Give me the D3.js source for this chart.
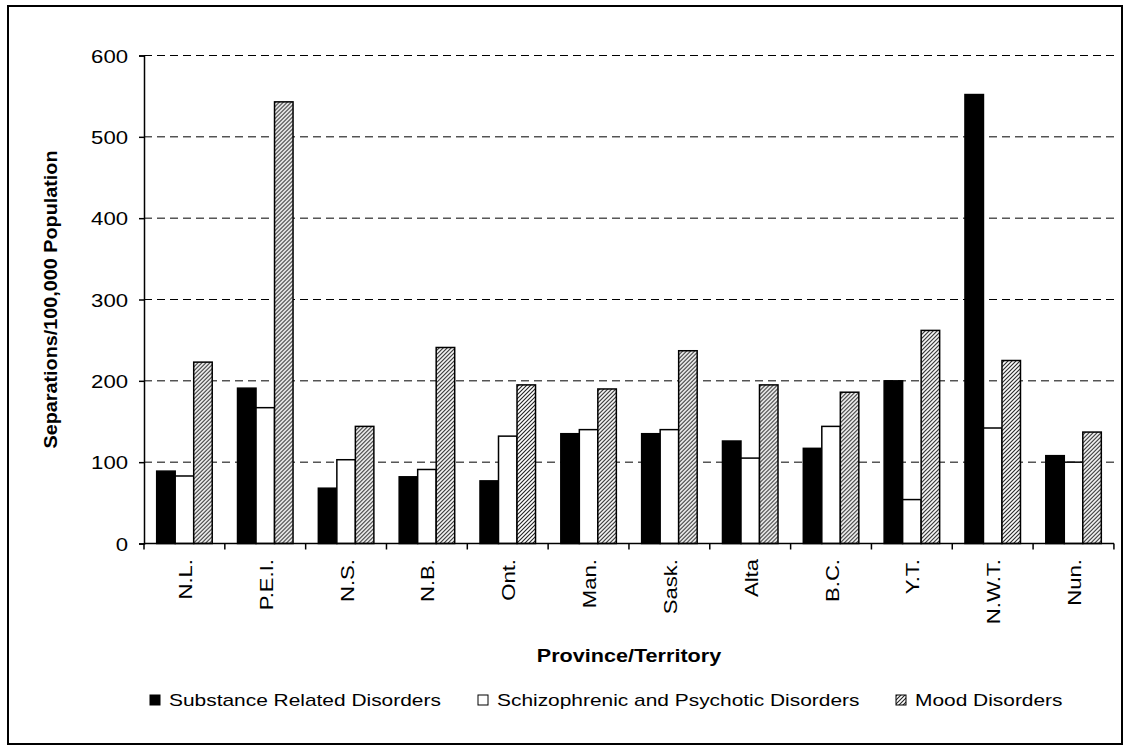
<!DOCTYPE html>
<html>
<head>
<meta charset="utf-8">
<script src="https://cdn.jsdelivr.net/npm/d3@7/dist/d3.min.js"></script>
<style>
  html, body { margin: 0; padding: 0; background: #fff; }
  text { font-family: "Liberation Sans", Arial, sans-serif; fill: #000; }
</style>
</head>
<body>
<svg id="chart" width="1130" height="752"></svg>
<script>
// Hospital separations per 100,000 population, by province/territory
const provinces = ["N.L.", "P.E.I.", "N.S.", "N.B.", "Ont.", "Man.", "Sask.", "Alta", "B.C.", "Y.T.", "N.W.T.", "Nun."];
const seriesNames = ["Substance Related Disorders", "Schizophrenic and Psychotic Disorders", "Mood Disorders"];
const substance = [89, 191, 68, 82, 77, 135, 135, 126, 117, 200, 552, 108];
const schizophrenic = [83, 167, 103, 91, 132, 140, 140, 105, 144, 54, 142, 100];
const mood = [223, 543, 144, 241, 195, 190, 237, 195, 186, 262, 225, 137];
const yTicks = [0, 100, 200, 300, 400, 500, 600];

const seriesValues = [substance, schizophrenic, mood];
const rows = provinces.map((p, i) => ({ p, vals: seriesValues.map(s => s[i]) }));

const svg = d3.select("#chart");
const W = 1130, H = 752;
const plotLeft = 144, plotRight = 1114, plotTop = 55.5, plotBottom = 543.5;
const WIDE = 1.23; // horizontal stretch of the label lettering

svg.append("rect").attr("width", W).attr("height", H).attr("fill", "#fff");

// hatch pattern for the mood series
const defs = svg.append("defs");
const pat = defs.append("pattern")
  .attr("id", "hatch").attr("patternUnits", "userSpaceOnUse")
  .attr("width", 4).attr("height", 4);
pat.append("rect").attr("width", 4).attr("height", 4).attr("fill", "#fff");
pat.append("path").attr("d", "M-1,1 l2,-2 M0,4 l4,-4 M3,5 l2,-2")
  .attr("stroke", "#222").attr("stroke-width", 1.1);

const fills = ["#000", "#fff", "url(#hatch)"];

// outer frame
svg.append("rect").attr("x", 8).attr("y", 6).attr("width", 1114).attr("height", 738)
  .attr("fill", "none").attr("stroke", "#000").attr("stroke-width", 2);

const x0 = d3.scaleBand().domain(provinces).range([plotLeft, plotRight])
  .paddingInner(0.313).paddingOuter(0.157);
const x1 = d3.scaleBand().domain(d3.range(3)).range([0, x0.bandwidth()]);
const y = d3.scaleLinear().domain([0, 600]).range([plotBottom, plotTop]);

// dashed gridlines
svg.append("g").selectAll("line").data(yTicks.filter(t => t > 0)).join("line")
  .attr("x1", plotLeft).attr("x2", plotRight + 4)
  .attr("y1", d => y(d)).attr("y2", d => y(d))
  .attr("stroke", "#000").attr("stroke-width", 1)
  .attr("stroke-dasharray", "8,5");

// bars
const groups = svg.append("g").selectAll("g").data(rows).join("g")
  .attr("transform", d => `translate(${x0(d.p)},0)`);
groups.selectAll("rect").data(d => d.vals.map((v, k) => ({ v, k }))).join("rect")
  .attr("x", d => x1(d.k))
  .attr("y", d => y(d.v))
  .attr("width", x1.bandwidth())
  .attr("height", d => y(0) - y(d.v))
  .attr("fill", d => fills[d.k])
  .attr("stroke", "#000").attr("stroke-width", 1.5);

// y axis
const yAxis = d3.axisLeft(y).tickValues(yTicks).tickSize(5);
const gy = svg.append("g").attr("transform", `translate(${plotLeft},0)`).call(yAxis);
gy.select(".domain").attr("stroke-width", 1.5);
gy.selectAll(".tick line").attr("stroke-width", 1.5);
gy.selectAll(".tick text")
  .attr("x", 0).attr("dy", null).attr("y", 0)
  .attr("transform", `translate(-16,6.7) scale(${WIDE},1)`)
  .attr("font-size", 18)
  .attr("font-family", "Liberation Sans, Arial, sans-serif");

// x axis: ticks at category boundaries
const step = x0.step();
const boundaries = d3.range(provinces.length + 1).map(i => plotLeft + i * step);
svg.append("line").attr("x1", plotLeft).attr("x2", plotRight).attr("y1", plotBottom).attr("y2", plotBottom)
  .attr("stroke", "#000").attr("stroke-width", 1.5);
svg.append("g").selectAll("line").data(boundaries).join("line")
  .attr("x1", d => d).attr("x2", d => d).attr("y1", plotBottom).attr("y2", plotBottom + 6)
  .attr("stroke", "#000").attr("stroke-width", 1.5);

// rotated category labels
svg.append("g").selectAll("text").data(provinces).join("text")
  .attr("transform", d => `translate(${x0(d) + x0.bandwidth() / 2 + 7.5},559) rotate(-90) scale(${WIDE},1)`)
  .attr("text-anchor", "end")
  .attr("font-size", 18)
  .text(d => d);

// axis titles
svg.append("text")
  .attr("transform", `translate(${(plotLeft + plotRight) / 2},662) scale(1.2,1)`)
  .attr("text-anchor", "middle").attr("font-size", 18).attr("font-weight", "bold")
  .text("Province/Territory");
svg.append("text")
  .attr("transform", `translate(57,${(plotTop + plotBottom) / 2}) rotate(-90) scale(1.1,1)`)
  .attr("text-anchor", "middle").attr("font-size", 18).attr("font-weight", "bold")
  .text("Separations/100,000 Population");

// legend
const legendX = [150, 478, 896];
const lg = svg.append("g").selectAll("g").data(seriesNames).join("g")
  .attr("transform", (d, i) => `translate(${legendX[i]},700)`);
lg.append("rect").attr("x", 0).attr("y", -5).attr("width", 10).attr("height", 10)
  .attr("fill", (d, i) => fills[i]).attr("stroke", "#000").attr("stroke-width", 1);
lg.append("text")
  .attr("transform", `translate(19,6) scale(${WIDE},1)`)
  .attr("font-size", 17).text(d => d);
</script>
</body>
</html>
